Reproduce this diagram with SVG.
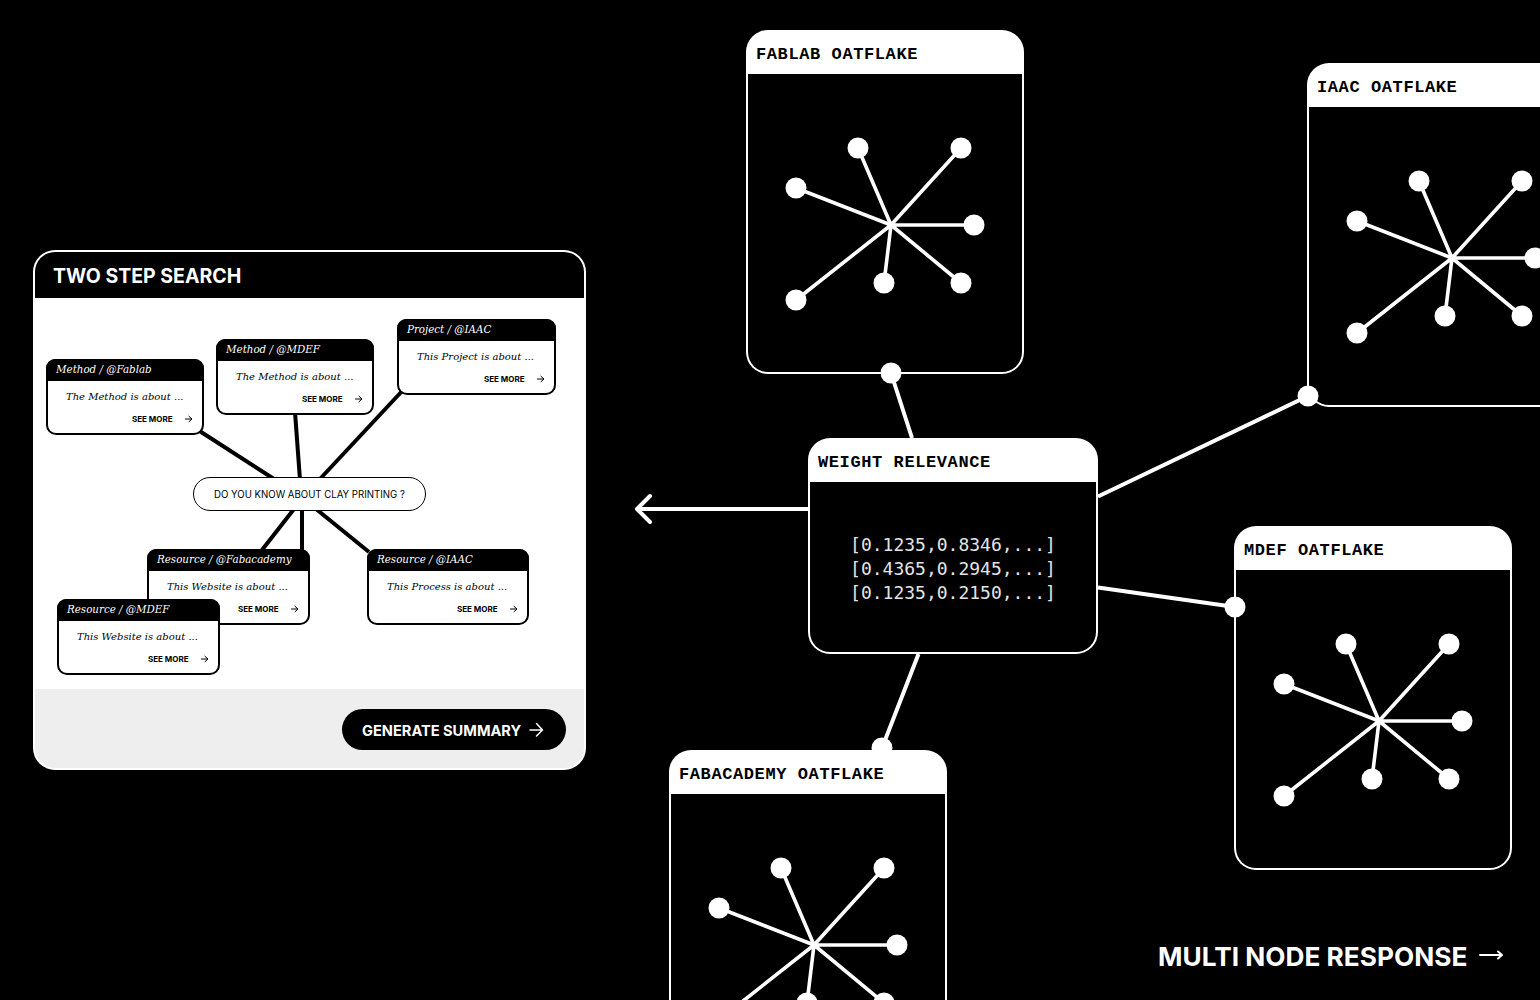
<svg xmlns="http://www.w3.org/2000/svg" xmlns:xlink="http://www.w3.org/1999/xlink" width="1540" height="1000" viewBox="0 0 1540 1000">
<style>
.hd{font-family:"Liberation Mono","DejaVu Sans Mono",monospace;font-weight:700;font-size:17px;letter-spacing:.6px;fill:#000}
.vec{font-family:"DejaVu Sans Mono","Liberation Mono",monospace;font-size:18px;fill:#e4e4e4}
.ct{font-family:"DejaVu Serif","Liberation Serif",serif;font-style:italic;font-size:10.3px;fill:#fff}
.cb{font-family:"DejaVu Serif","Liberation Serif",serif;font-style:italic;font-size:10px;fill:#000}
.sm{font-family:Inter,"Liberation Sans",sans-serif;font-weight:700;font-size:8px;fill:#000}
.in{font-family:Inter,"Liberation Sans",sans-serif;font-weight:700}
.w{stroke:#fff;fill:none;stroke-linecap:round;stroke-linejoin:round}
.k{stroke:#000;fill:none;stroke-linecap:round;stroke-linejoin:round}
</style>
<defs>
<g id="flake">
<g stroke="#fff" stroke-width="3.600" fill="none">
<path d="M0 0L-33-77M0 0L70-77M0 0L-95-37M0 0L83 0M0 0L70 58M0 0L-7 58M0 0L-95 75"/>
</g>
<g fill="#fff">
<circle cx="-33" cy="-77" r="10.500"/><circle cx="70" cy="-77" r="10.500"/><circle cx="-95" cy="-37" r="10.500"/><circle cx="83" cy="0" r="10.500"/><circle cx="70" cy="58" r="10.500"/><circle cx="-7" cy="58" r="10.500"/><circle cx="-95" cy="75" r="10.500"/>
</g>
</g>
<g id="oat">
<rect x="0" y="0" width="278" height="344" rx="22" fill="#fff"/>
<path d="M2 44H276V322a20 20 0 0 1-20 20H22a20 20 0 0 1-20-20Z" fill="#000"/>
<use xlink:href="#flake" href="#flake" x="145" y="195"/>
</g>
<g id="tiny"><path d="M0 0H6M3.500-2.700L6.500 0L3.500 2.700" class="k" stroke-width="1"/></g>
</defs>
<rect width="1540" height="1000" fill="#000"/>

<g id="panel-two-step-search">
<rect x="33" y="250" width="553" height="520" rx="22" fill="#fff"/>
<path d="M35 298V272a20 20 0 0 1 20-20H564a20 20 0 0 1 20 20V298Z" fill="#000"/>
<path d="M35 689H584V748a20 20 0 0 1-20 20H55a20 20 0 0 1-20-20Z" fill="#eee"/>
<text x="53" y="282.500" class="in" font-size="19.500" fill="#fff">TWO STEP SEARCH</text>
</g>

<g id="search-connectors" stroke="#000" stroke-width="4" fill="none">
<path d="M198 430L274 479M295 412L300 480M404 389L319 480M262 550L294 509M302 550V509M369 552L316 509"/>
</g>

<g id="card-method-fablab" transform="translate(47,360)">
<rect width="156" height="74" rx="9" fill="#fff" stroke="#000" stroke-width="2"/>
<path d="M-1 21V8a9 9 0 0 1 9-9H148a9 9 0 0 1 9 9V21Z" fill="#000"/>
<text x="9" y="13" class="ct">Method / @Fablab</text>
<text x="19" y="40" class="cb">The Method is about ...</text>
<text x="85" y="62" class="sm">SEE MORE</text>
<use xlink:href="#tiny" href="#tiny" x="138.500" y="59"/>
</g>
<g id="card-method-mdef" transform="translate(217,340)">
<rect width="156" height="74" rx="9" fill="#fff" stroke="#000" stroke-width="2"/>
<path d="M-1 21V8a9 9 0 0 1 9-9H148a9 9 0 0 1 9 9V21Z" fill="#000"/>
<text x="9" y="13" class="ct">Method / @MDEF</text>
<text x="19" y="40" class="cb">The Method is about ...</text>
<text x="85" y="62" class="sm">SEE MORE</text>
<use xlink:href="#tiny" href="#tiny" x="138.500" y="59"/>
</g>
<g id="card-project-iaac" transform="translate(398,320)">
<rect width="157" height="74" rx="9" fill="#fff" stroke="#000" stroke-width="2"/>
<path d="M-1 21V8a9 9 0 0 1 9-9H149a9 9 0 0 1 9 9V21Z" fill="#000"/>
<text x="9" y="13" class="ct">Project / @IAAC</text>
<text x="19" y="40" class="cb">This Project is about ...</text>
<text x="86" y="62" class="sm">SEE MORE</text>
<use xlink:href="#tiny" href="#tiny" x="139.500" y="59"/>
</g>
<g id="card-resource-fabacademy" transform="translate(148,550)">
<rect width="161" height="74" rx="9" fill="#fff" stroke="#000" stroke-width="2"/>
<path d="M-1 21V8a9 9 0 0 1 9-9H153a9 9 0 0 1 9 9V21Z" fill="#000"/>
<text x="9" y="13" class="ct">Resource / @Fabacademy</text>
<text x="19" y="40" class="cb">This Website is about ...</text>
<text x="90" y="62" class="sm">SEE MORE</text>
<use xlink:href="#tiny" href="#tiny" x="143.500" y="59"/>
</g>
<g id="card-resource-iaac" transform="translate(368,550)">
<rect width="160" height="74" rx="9" fill="#fff" stroke="#000" stroke-width="2"/>
<path d="M-1 21V8a9 9 0 0 1 9-9H152a9 9 0 0 1 9 9V21Z" fill="#000"/>
<text x="9" y="13" class="ct">Resource / @IAAC</text>
<text x="19" y="40" class="cb">This Process is about ...</text>
<text x="89" y="62" class="sm">SEE MORE</text>
<use xlink:href="#tiny" href="#tiny" x="142.500" y="59"/>
</g>
<g id="card-resource-mdef" transform="translate(58,600)">
<rect width="161" height="74" rx="9" fill="#fff" stroke="#000" stroke-width="2"/>
<path d="M-1 21V8a9 9 0 0 1 9-9H153a9 9 0 0 1 9 9V21Z" fill="#000"/>
<text x="9" y="13" class="ct">Resource / @MDEF</text>
<text x="19" y="40" class="cb">This Website is about ...</text>
<text x="90" y="62" class="sm">SEE MORE</text>
<use xlink:href="#tiny" href="#tiny" x="143.500" y="59"/>
</g>

<g id="query-pill">
<rect x="193.500" y="477.500" width="232" height="33" rx="16.500" fill="#fff" stroke="#000" stroke-width="1"/>
<text x="309.500" y="497.500" text-anchor="middle" font-family="Inter,'Liberation Sans',sans-serif" font-size="9.650" fill="#000">DO YOU KNOW ABOUT CLAY PRINTING ?</text>
</g>

<g id="generate-summary">
<rect x="342" y="709" width="224" height="41" rx="20.500" fill="#000"/>
<text x="362" y="736" class="in" font-size="14.600" fill="#fff">GENERATE SUMMARY</text>
<path d="M530 730H542M536.500 723.500L542.500 730L536.500 736" class="w" stroke-width="1.500"/>
</g>

<g id="node-fablab" transform="translate(746,30)">
<use xlink:href="#oat" href="#oat"/>
<text x="10" y="29" class="hd">FABLAB OATFLAKE</text>
</g>
<g id="node-iaac" transform="translate(1307,63)">
<use xlink:href="#oat" href="#oat"/>
<text x="10" y="29" class="hd">IAAC OATFLAKE</text>
</g>
<g id="node-mdef" transform="translate(1234,526)">
<use xlink:href="#oat" href="#oat"/>
<text x="10" y="29" class="hd">MDEF OATFLAKE</text>
</g>
<g id="node-fabacademy" transform="translate(669,750)">
<use xlink:href="#oat" href="#oat"/>
<text x="10" y="29" class="hd">FABACADEMY OATFLAKE</text>
</g>

<g id="node-weight-relevance">
<rect x="808" y="438" width="290" height="216" rx="22" fill="#fff"/>
<path d="M810 482H1096V632a20 20 0 0 1-20 20H830a20 20 0 0 1-20-20Z" fill="#000"/>
<text x="818" y="467" class="hd">WEIGHT RELEVANCE</text>
<text x="953" y="551" text-anchor="middle" class="vec">[0.1235,0.8346,...]</text>
<text x="953" y="575" text-anchor="middle" class="vec">[0.4365,0.2945,...]</text>
<text x="953" y="599" text-anchor="middle" class="vec">[0.1235,0.2150,...]</text>
</g>

<g id="connectors">
<g stroke="#fff" stroke-width="4" fill="none">
<path d="M891 373L912 438M1308 396L1098 496.500M1235 607L1098 587.500M882 748L918.500 654"/>
</g>
<path d="M808 509H638M650 496L637 509L650 522" class="w" stroke-width="4"/>
<g fill="#fff">
<circle cx="891" cy="373" r="10.500"/>
<circle cx="1308" cy="396" r="10.500"/>
<circle cx="1235" cy="607" r="10.500"/>
<circle cx="882" cy="748" r="10.500"/>
</g>
</g>

<g id="multi-node-response">
<text x="1158" y="966" class="in" font-size="26.250" fill="#fff">MULTI NODE RESPONSE</text>
<path d="M1480 955H1501M1498 951.500L1502 955L1498 958.500" class="w" stroke-width="2"/>
</g>
</svg>
